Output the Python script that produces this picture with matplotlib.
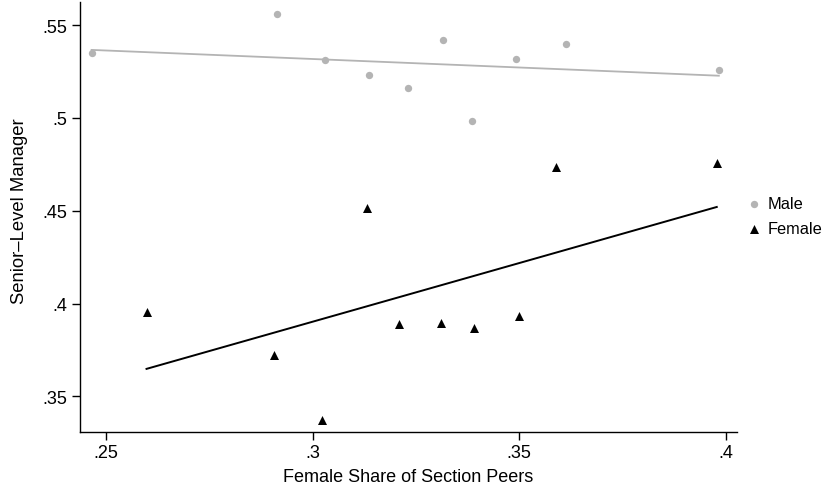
import numpy as np
import matplotlib.pyplot as plt

plt.rcParams['font.family'] = ['Liberation Sans', 'DejaVu Sans']

# binned points
male_x = [0.2465, 0.2913, 0.3031, 0.3136, 0.3231, 0.3315, 0.3385, 0.3491, 0.3613, 0.3983]
male_y = [0.5348, 0.5559, 0.5311, 0.5229, 0.5162, 0.5419, 0.4981, 0.5317, 0.5396, 0.5256]
female_x = [0.2598, 0.2906, 0.3022, 0.3132, 0.3209, 0.3310, 0.3391, 0.3499, 0.3589, 0.3978]
female_y = [0.3955, 0.3725, 0.3375, 0.4517, 0.3888, 0.3894, 0.3867, 0.3932, 0.4733, 0.4756]

# fitted lines: value at the lowest and highest bin
male_fit = [0.5366, 0.5227]
female_fit = [0.3648, 0.4520]

xticks = [0.25, 0.30, 0.35, 0.40]
xtick_labels = ['.25', '.3', '.35', '.4']
yticks = [0.35, 0.40, 0.45, 0.50, 0.55]
ytick_labels = ['.35', '.4', '.45', '.5', '.55']

gray = '#b4b4b4'

fig = plt.figure(figsize=(8.3, 4.89), dpi=100)
ax = fig.add_axes([80/830, 56/489, 657/830, 430/489])

ax.plot([min(male_x), max(male_x)], male_fit, color=gray, lw=1.3, zorder=2)
ax.plot([min(female_x), max(female_x)], female_fit, color='black', lw=1.4, zorder=2)
ax.scatter(male_x, male_y, s=28, color=gray, marker='o', lw=0, label='Male', zorder=3)
ax.scatter(female_x, female_y, s=42, color='black', marker='^', lw=0, label='Female', zorder=3)

ax.set_xlim(0.2437, 0.4027)
ax.set_ylim(0.3308, 0.5624)
ax.set_xticks(xticks)
ax.set_xticklabels(xtick_labels)
ax.set_yticks(yticks)
ax.set_yticklabels(ytick_labels)
ax.tick_params(direction='out', length=6, width=1, labelsize=13, pad=3)
for s in ['top', 'right']:
    ax.spines[s].set_visible(False)
for s in ['left', 'bottom']:
    ax.spines[s].set_linewidth(1)

ax.set_xlabel('Female Share of Section Peers', fontsize=13, labelpad=5)
ax.set_ylabel('Senior\u2013Level Manager', fontsize=13.3)
ax.yaxis.set_label_coords(-0.079, 0.517)

ax.legend(loc='center left', bbox_to_anchor=(739/830, 1 - 217/489), bbox_transform=fig.transFigure,
          frameon=False, fontsize=11.8, handletextpad=0.35, labelspacing=0.6,
          borderaxespad=0, handlelength=1.0)

fig.savefig('out.png', dpi=100)
